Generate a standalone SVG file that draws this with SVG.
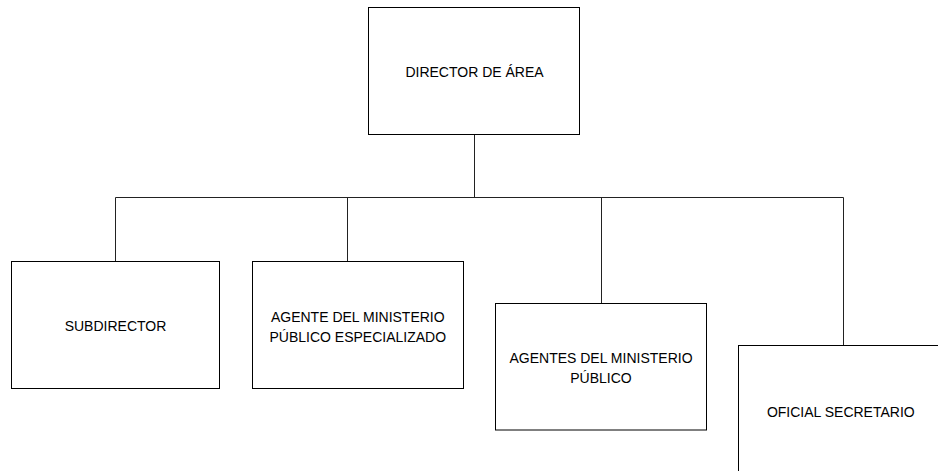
<svg xmlns="http://www.w3.org/2000/svg" width="938" height="471" viewBox="0 0 938 471">
<style>
.box{fill:#fff;stroke:#000;stroke-width:1}
.lbl{font-family:"Liberation Sans",Arial,sans-serif;font-size:14px;fill:#000;text-anchor:middle}
.conn{fill:none;stroke:#222;stroke-width:1}
</style>
<rect width="938" height="471" fill="#fff"/>
<g id="connectors">
<path class="conn" d="M474.5 134.5V197.5M115.5 197.5H843.5M115.5 197.5V261M347.5 197.5V261M601.5 197.5V303.5M843.5 197.5V345.5"/>
</g>
<g id="director">
<rect class="box" x="368.5" y="7.5" width="211" height="127"/>
<text class="lbl" x="474.5" y="77">DIRECTOR DE ÁREA</text>
</g>
<g id="subdirector">
<rect class="box" x="11.5" y="261.5" width="208" height="127"/>
<text class="lbl" x="115.5" y="330.5">SUBDIRECTOR</text>
</g>
<g id="agente-especializado">
<rect class="box" x="252.5" y="261.5" width="211" height="127"/>
<text class="lbl" x="357.8" y="321.5">AGENTE DEL MINISTERIO</text>
<text class="lbl" x="357.8" y="341.5">PÚBLICO ESPECIALIZADO</text>
</g>
<g id="agentes">
<rect class="box" x="495.5" y="303.5" width="211" height="126.5"/>
<text class="lbl" x="601" y="363.3">AGENTES DEL MINISTERIO</text>
<text class="lbl" x="601" y="383.3">PÚBLICO</text>
</g>
<g id="oficial">
<rect class="box" x="738.5" y="345.5" width="205" height="130"/>
<text class="lbl" x="840.8" y="416.7">OFICIAL SECRETARIO</text>
</g>
</svg>
